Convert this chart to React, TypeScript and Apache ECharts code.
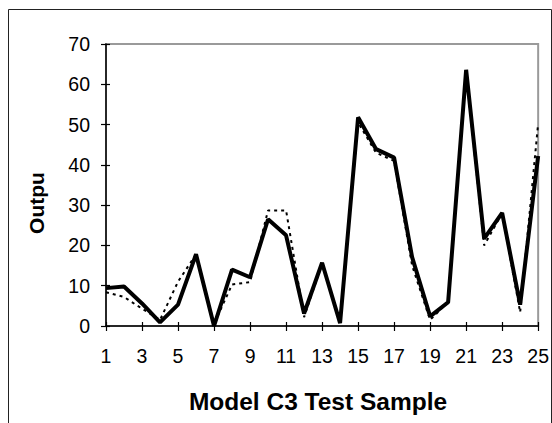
import React, { useEffect, useRef } from "react";
import * as echarts from "echarts";

const categories = ["1","2","3","4","5","6","7","8","9","10","11","12","13","14","15","16","17","18","19","20","21","22","23","24","25"];
const solidValues = [9.4, 9.8, 5.6, 0.9, 5.3, 17.8, 0, 14.0, 12.1, 26.5, 22.5, 3.1, 15.7, 0.7, 51.8, 43.9, 41.8, 17.1, 2.4, 5.9, 63.6, 21.7, 28.1, 5.3, 42.2];
const dottedValues = [8.4, 7.2, 4.3, 1.5, 11.0, 17.8, 0.5, 10.3, 10.9, 28.7, 28.7, 2.2, 15.5, 1.0, 50.5, 43.0, 41.0, 15.0, 1.5, 6.0, 63.0, 20.0, 28.0, 3.4, 50.3];
const yMin = 0;
const yMax = 70;
const yStep = 10;
const xTitle = "Model C3 Test Sample";
const yTitle = "Outpu";

const FONT = "'Liberation Sans', Arial, sans-serif";

export default function App() {
  const ref = useRef<HTMLDivElement>(null);
  useEffect(() => {
    if (!ref.current) return;
    const chart = echarts.init(ref.current, undefined, { renderer: "svg" });
    const baseX = {
      type: "category",
      data: categories,
      boundaryGap: false,
      position: "bottom",
    };
    const baseY = {
      type: "value",
      min: yMin,
      max: yMax,
      interval: yStep,
      splitLine: { show: false },
      position: "left",
    };
    chart.setOption({
      animation: false,
      backgroundColor: "#fff",
      grid: {
        left: 106,
        top: 44,
        right: 13,
        bottom: 97,
        show: true,
        borderColor: "#9a9a9a",
        borderWidth: 2,
      },
      xAxis: [
        {
          ...baseX,
          axisLine: { show: true, lineStyle: { color: "#000", width: 1.5 } },
          axisTick: { show: true, interval: 1, length: 5, lineStyle: { color: "#000", width: 1.2 } },
          axisLabel: { interval: 1, color: "#000", fontFamily: FONT, fontSize: 19.5, margin: 20 },
        },
        {
          ...baseX,
          axisLine: { show: false },
          axisTick: { show: true, inside: true, interval: 1, length: 4, lineStyle: { color: "#000", width: 1.2 } },
          axisLabel: { show: false },
        },
      ],
      yAxis: [
        {
          ...baseY,
          axisLine: { show: true, lineStyle: { color: "#000", width: 1.5 } },
          axisTick: { show: true, length: 5, lineStyle: { color: "#000", width: 1.2 } },
          axisLabel: { color: "#000", fontFamily: FONT, fontSize: 19.5, margin: 16 },
        },
        {
          ...baseY,
          axisLine: { show: false },
          axisTick: { show: true, inside: true, length: 4, lineStyle: { color: "#000", width: 1.2 } },
          axisLabel: { show: false },
        },
      ],
      series: [
        {
          type: "line",
          data: dottedValues,
          xAxisIndex: 0,
          yAxisIndex: 0,
          symbol: "none",
          lineStyle: { color: "#000", width: 2, type: [3, 4] },
          z: 2,
        },
        {
          type: "line",
          data: solidValues,
          xAxisIndex: 0,
          yAxisIndex: 0,
          symbol: "none",
          lineStyle: { color: "#000", width: 4 },
          z: 3,
        },
      ],
      graphic: [
        {
          type: "rect",
          shape: { x: 8.5, y: 9.5, width: 543, height: 430 },
          style: { fill: "none", stroke: "#222", lineWidth: 1 },
          silent: true,
          z: 0,
        },
        {
          type: "text",
          x: 318,
          y: 401,
          style: {
            text: xTitle,
            fill: "#000",
            font: `bold 24.5px ${FONT}`,
            align: "center",
            verticalAlign: "middle",
          },
        },
        {
          type: "text",
          x: 36,
          y: 203,
          rotation: Math.PI / 2,
          style: {
            text: yTitle,
            fill: "#000",
            font: `bold 21px ${FONT}`,
            align: "center",
            verticalAlign: "middle",
          },
        },
      ],
    });
    return () => chart.dispose();
  }, []);
  return <div ref={ref} style={{ width: 552, height: 423, position: "absolute", left: 0, top: 0 }} />;
}
